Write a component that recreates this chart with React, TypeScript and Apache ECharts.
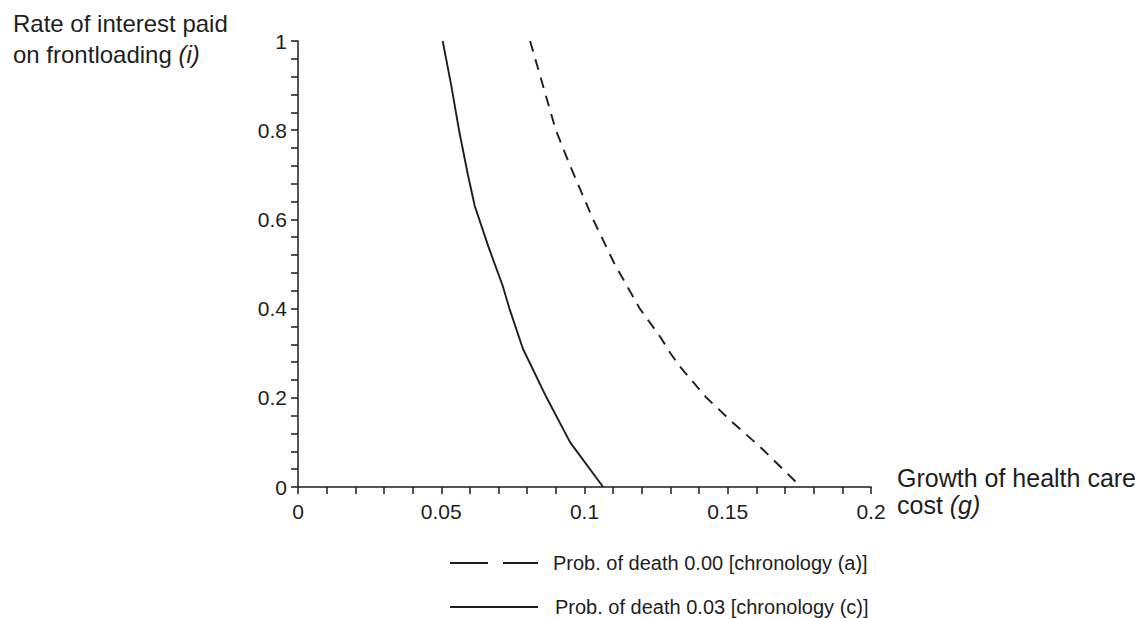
import React, { useEffect, useRef } from "react";
import * as echarts from "echarts";

// Growth of health care cost (g) and rate of interest paid on frontloading (i)
const dashedG = [0.081, 0.0855, 0.09, 0.095, 0.103, 0.1105, 0.1193, 0.1264, 0.13, 0.1333, 0.1426, 0.152, 0.1613, 0.1756];
const dashedI = [1.0, 0.9, 0.8, 0.72, 0.6, 0.5, 0.4, 0.337, 0.3, 0.27, 0.2, 0.143, 0.09, 0.0];
const solidG = [0.0505, 0.0535, 0.0562, 0.0593, 0.0617, 0.0664, 0.0715, 0.0738, 0.0785, 0.0868, 0.095, 0.1065];
const solidI = [1.0, 0.9, 0.8, 0.7, 0.63, 0.54, 0.45, 0.4, 0.31, 0.2, 0.1, 0.0];

const seriesNames = [
  "Prob. of death 0.00 [chronology (a)]",
  "Prob. of death 0.03 [chronology (c)]",
];
const xTickLabels = ["0", "0.05", "0.1", "0.15", "0.2"];
const yTickLabels = ["0", "0.2", "0.4", "0.6", "0.8", "1"];

const INK = "#1e1e1e";
const FONT = "'Liberation Sans', Arial, Helvetica, sans-serif";

export default function App() {
  const ref = useRef<HTMLDivElement>(null);
  useEffect(() => {
    if (!ref.current) return;
    const chart = echarts.init(ref.current, undefined, { renderer: "svg" });
    const axisCommon = {
      type: "value" as const,
      axisLine: { show: true, lineStyle: { color: INK, width: 1.5 } },
      axisTick: { show: true, inside: false, length: 7, lineStyle: { color: INK, width: 1.5 } },
      minorTick: { show: true, splitNumber: 5, length: 7, lineStyle: { color: INK, width: 1.5 } },
      splitLine: { show: false },
      minorSplitLine: { show: false },
    };
    const legendRow = (k: number, y: number, dash: number[] | null, textX: number) => ({
      type: "group",
      children: [
        {
          type: "line",
          shape: { x1: 450, y1: y, x2: 538, y2: y },
          style: { stroke: INK, lineWidth: 2, lineDash: dash ?? undefined },
        },
        {
          type: "text",
          x: textX,
          y: y,
          style: {
            text: seriesNames[k],
            font: `20px ${FONT}`,
            fill: INK,
            textVerticalAlign: "middle",
            verticalAlign: "middle",
          },
        },
      ],
    });
    chart.setOption({
      animation: false,
      grid: { left: 298, top: 41, right: 276, bottom: 131, containLabel: false },
      xAxis: {
        ...axisCommon,
        min: 0,
        max: 0.2,
        interval: 0.05,
        axisLabel: {
          fontSize: 21,
          fontFamily: FONT,
          color: INK,
          margin: 14,
          formatter: (v: number) => xTickLabels[Math.round(v / 0.05)] ?? String(v),
        },
      },
      yAxis: {
        ...axisCommon,
        min: 0,
        max: 1,
        interval: 0.2,
        axisLabel: {
          fontSize: 21,
          fontFamily: FONT,
          color: INK,
          margin: 11,
          formatter: (v: number) => yTickLabels[Math.round(v / 0.2)] ?? String(v),
        },
      },
      graphic: [
        {
          type: "text",
          left: 13,
          top: 8,
          style: {
            text: "Rate of interest paid\non frontloading {it|(i)}",
            font: `24px ${FONT}`,
            fill: INK,
            lineHeight: 31,
            rich: { it: { fontStyle: "italic", fontSize: 24, fontFamily: FONT, fill: INK, lineHeight: 31 } },
          },
        },
        {
          type: "text",
          left: 897,
          top: 464,
          style: {
            text: "Growth of health care\ncost {it|(g)}",
            font: `25px ${FONT}`,
            fill: INK,
            lineHeight: 27,
            rich: { it: { fontStyle: "italic", fontSize: 25, fontFamily: FONT, fill: INK, lineHeight: 27 } },
          },
        },
        legendRow(0, 563, [38, 15], 553),
        legendRow(1, 607, null, 555),
      ],
      series: [
        {
          name: seriesNames[0],
          type: "line",
          symbol: "none",
          data: dashedG.map((g, k) => [g, dashedI[k]]),
          itemStyle: { color: INK },
          lineStyle: { color: INK, width: 1.9, type: [11, 8] },
        },
        {
          name: seriesNames[1],
          type: "line",
          symbol: "none",
          data: solidG.map((g, k) => [g, solidI[k]]),
          itemStyle: { color: INK },
          lineStyle: { color: INK, width: 1.9, type: "solid" },
        },
      ],
    });
    return () => chart.dispose();
  }, []);
  return (
    <div
      ref={ref}
      style={{ position: "fixed", left: 0, top: 0, width: 1147, height: 618, background: "#fff" }}
    />
  );
}
